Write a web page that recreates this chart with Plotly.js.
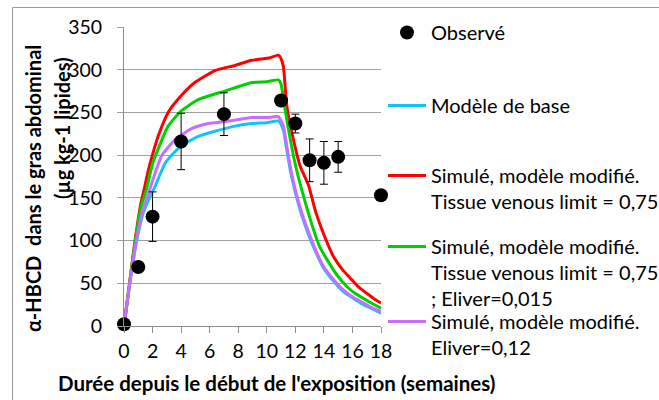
<!DOCTYPE html>
<html>
<head>
<meta charset="utf-8">
<script src="https://cdn.plot.ly/plotly-3.0.1.min.js"></script>
<style>html,body{margin:0;padding:0;background:#fff;}#chart{width:659px;height:400px;}</style>
</head>
<body>
<div id="chart"></div>
<script>
// Observed data
const obsWeeks = [0, 1, 2, 4, 7, 11, 12, 13, 14, 15, 18];
const obsValues = [2, 69, 128, 216, 248, 264, 237, 194, 191, 198, 153];
const obsErrors = [0, 0, 29, 33, 25, 0, 11, 25, 25, 18, 0];

// Modèle de base (cyan)
const baseWeeks = [0, 0.4, 0.87, 1.3, 1.7, 2.16, 2.86, 3.4, 4.03, 5.2, 6.37, 7.77, 8.95, 10.0, 10.81, 11.0, 11.17, 11.4, 11.64, 11.99, 12.5, 13.04, 13.5, 13.97, 14.7, 15.38, 16.1, 16.78, 17.4, 18];
const baseValues = [0, 49, 98, 130, 147, 163, 190, 201, 211, 222, 228, 234, 237, 238, 240, 236, 229, 206, 183, 157, 127, 102, 84, 68, 52, 40, 32, 25, 20, 15];

// Simulé, Tissue venous limit = 0,75 (red)
const redWeeks = [0, 0.4, 0.8, 1.2, 1.41, 1.7, 2.04, 2.39, 3.09, 4.03, 4.96, 6.37, 7.77, 8.95, 10.23, 10.81, 11.0, 11.17, 11.4, 11.87, 12.34, 12.92, 13.4, 13.86, 14.68, 15.3, 15.85, 16.4, 17.02, 17.5, 18];
const redValues = [0, 52, 103, 145, 160, 182, 203, 222, 250, 270, 285, 299, 305, 311, 314, 317, 313, 303, 258, 218, 187, 165, 135, 113, 81, 66, 56, 46, 38, 32, 27];

// Simulé, Tissue venous limit = 0,75 ; Eliver=0,015 (green)
const greenWeeks = [0, 0.4, 0.8, 1.2, 1.57, 2.0, 2.39, 3.09, 4.03, 5.2, 7.07, 8.95, 10.0, 10.81, 11.0, 11.17, 11.52, 11.87, 12.2, 12.57, 13.27, 13.7, 14.21, 14.9, 15.62, 16.2, 16.8, 17.4, 18];
const greenValues = [0, 51, 101, 140, 160, 190, 207, 234, 252, 265, 275, 285, 286, 288, 283, 265, 230, 199, 175, 152, 113, 93, 78, 60, 46, 38, 32, 26, 21];

// Simulé, Eliver=0,12 (violet)
const violetWeeks = [0, 0.4, 0.87, 1.3, 1.65, 2.0, 2.63, 3.56, 4.73, 5.9, 7.3, 8.95, 10.0, 10.81, 11.0, 11.17, 11.4, 11.64, 11.99, 12.5, 13.04, 13.5, 13.97, 14.7, 15.38, 16.1, 16.78, 17.4, 18];
const violetValues = [0, 50, 100, 135, 152, 170, 199, 218, 231, 237, 240, 244, 244, 245, 240, 234, 211, 187, 160, 130, 105, 86, 70, 54, 42, 33, 27, 21, 17];

const xTicks = [0, 2, 4, 6, 8, 10, 12, 14, 16, 18];
const yTicks = [0, 50, 100, 150, 200, 250, 300, 350];

const FONT = 'Lato, "Open Sans", sans-serif';
const TXT = 20.5;
const LEG = 20;
const TICK = 19.5;

function lineTrace(x, y, name, color, legend) {
  return {x: x, y: y, name: name, type: 'scatter', mode: 'lines',
    line: {color: color, width: 3, shape: 'spline', smoothing: 0.5}, legend: legend, cliponaxis: false, hoverinfo: 'skip'};
}

const traces = [
  lineTrace(baseWeeks, baseValues, 'Modèle de base', '#12C4F6', 'legend2'),
  lineTrace(redWeeks, redValues, 'Simulé, modèle modifié.<br>Tissue venous limit = 0,75', '#FF0000', 'legend3'),
  lineTrace(greenWeeks, greenValues, 'Simulé, modèle modifié.<br>Tissue venous limit = 0,75<br>; Eliver=0,015', '#00D000', 'legend4'),
  lineTrace(violetWeeks, violetValues, 'Simulé, modèle modifié.<br>Eliver=0,12', '#C86EFA', 'legend5'),
  {x: obsWeeks, y: obsValues, name: 'Observé', type: 'scatter', mode: 'markers',
   marker: {color: '#000', size: 14}, legend: 'legend', cliponaxis: false,
   error_y: {type: 'data', array: obsErrors, visible: true, color: '#000', thickness: 1, width: 4}}
];

const plotL = 124, plotT = 27, plotW = 257, plotH = 299;
function px2x(px) { return (px - plotL) / plotW; }
function py2y(py) { return (plotT + plotH - py) / plotH; }

function leg(topPx) {
  return {x: px2x(383), xanchor: 'left', y: py2y(topPx), yanchor: 'top', valign: 'top',
    bgcolor: 'rgba(0,0,0,0)', borderwidth: 0, itemwidth: 38,
    font: {family: FONT, size: LEG, color: '#000'}};
}

const layout = {
  width: 659, height: 400,
  margin: {l: plotL, r: 659 - plotL - plotW, t: plotT, b: 400 - plotT - plotH, autoexpand: false},
  paper_bgcolor: '#fff', plot_bgcolor: '#fff',
  font: {family: FONT, size: TXT, color: '#000'},
  showlegend: true,
  legend: leg(13), legend2: leg(86), legend3: leg(156), legend4: leg(227), legend5: leg(302),
  xaxis: {range: [0, 18], tickvals: xTicks, ticktext: xTicks.map(String), ticks: 'outside', ticklen: 6,
    tickcolor: '#8c8c8c', showline: true, linecolor: '#8c8c8c', linewidth: 1, showgrid: false, zeroline: false,
    tickfont: {family: FONT, size: TICK, color: '#000'}, ticklabelstandoff: 2, fixedrange: true},
  yaxis: {range: [0, 350], tickvals: yTicks, ticktext: yTicks.map(String), ticks: 'outside', ticklen: 6,
    tickcolor: '#a0a0a0', showline: true, linecolor: '#8c8c8c', linewidth: 1, showgrid: true, gridcolor: '#a0a0a0',
    gridwidth: 1, zeroline: false, tickfont: {family: FONT, size: TICK, color: '#000'}, ticklabelstandoff: 11, fixedrange: true},
  annotations: [
    {text: '<b>α-HBCD  dans le gras abdominal</b>', xref: 'paper', yref: 'paper', x: px2x(33), y: py2y(189),
     textangle: -90, showarrow: false, font: {family: FONT, size: 20, color: '#000'}, xanchor: 'center', yanchor: 'middle'},
    {text: '<b>(µg kg-1 lipides)</b>', xref: 'paper', yref: 'paper', x: px2x(62), y: py2y(128),
     textangle: -90, showarrow: false, font: {family: FONT, size: 20, color: '#000'}, xanchor: 'center', yanchor: 'middle'},
    {text: "<b>Durée depuis le début de l'exposition (semaines)</b>", xref: 'paper', yref: 'paper', x: px2x(276), y: py2y(383),
     showarrow: false, font: {family: FONT, size: TXT, color: '#000'}, xanchor: 'center', yanchor: 'middle'}
  ],
  shapes: [
    {type: 'rect', xref: 'paper', yref: 'paper', x0: px2x(12.5), x1: px2x(720), y0: py2y(450), y1: py2y(7.5),
     line: {color: '#9a9a9a', width: 1}, fillcolor: 'rgba(0,0,0,0)', layer: 'below'}
  ]
};

Plotly.newPlot('chart', traces, layout, {displayModeBar: false, staticPlot: true});
</script>
</body>
</html>
